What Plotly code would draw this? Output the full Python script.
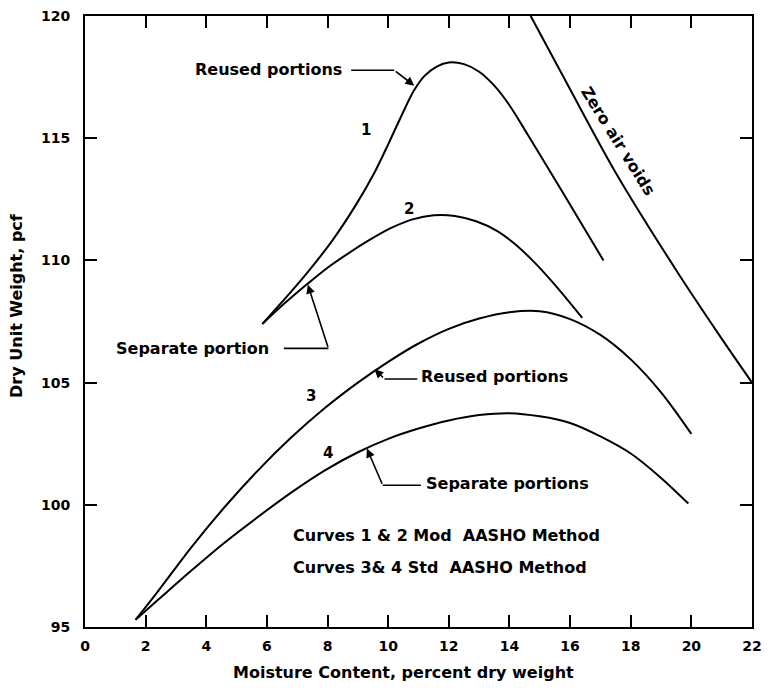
import plotly.graph_objects as go

# Moisture-density (compaction) curves, dry unit weight vs moisture content
curve1_x = [5.85, 6.5, 7.3, 8.15, 8.9, 9.55, 10.0, 10.45, 10.85, 11.2, 11.6, 12.0, 12.5, 13.0, 13.5, 14.0, 14.6, 15.7, 17.1]
curve1_y = [107.4, 108.3, 109.45, 110.8, 112.2, 113.6, 114.75, 115.95, 116.95, 117.55, 117.93, 118.1, 118.03, 117.72, 117.15, 116.35, 115.15, 112.9, 110.0]

curve2_x = [5.85, 6.5, 7.3, 8.0, 8.7, 9.4, 10.1, 10.8, 11.5, 12.2, 12.9, 13.6, 14.2, 14.8, 15.5, 16.4]
curve2_y = [107.4, 108.15, 109.0, 109.7, 110.3, 110.85, 111.33, 111.68, 111.85, 111.82, 111.6, 111.2, 110.65, 109.95, 109.0, 107.65]

curve3_x = [1.67, 2.4, 3.5, 4.6, 5.7, 6.8, 7.9, 9.0, 10.0, 11.0, 12.0, 13.0, 14.0, 15.0, 16.0, 17.0, 18.0, 19.0, 20.0]
curve3_y = [95.3, 96.45, 98.25, 99.9, 101.4, 102.75, 103.95, 105.0, 105.85, 106.6, 107.2, 107.62, 107.88, 107.92, 107.6, 106.95, 105.95, 104.6, 102.9]

curve4_x = [1.67, 2.4, 3.5, 4.6, 5.7, 6.8, 7.9, 9.0, 10.0, 11.0, 12.0, 13.0, 14.0, 15.0, 16.0, 17.0, 18.0, 19.0, 19.9]
curve4_y = [95.3, 96.1, 97.3, 98.45, 99.5, 100.5, 101.4, 102.15, 102.7, 103.12, 103.45, 103.67, 103.75, 103.62, 103.35, 102.8, 102.1, 101.1, 100.05]

zav_x = [14.7, 16.0, 17.5, 19.5, 21.0, 22.0]
zav_y = [120.0, 117.0, 113.6, 109.6, 106.8, 105.0]

x_ticks = [0, 2, 4, 6, 8, 10, 12, 14, 16, 18, 20, 22]
y_ticks = [95, 100, 105, 110, 115, 120]

FONT = "DejaVu Sans"
INK = "black"


def bold(size=14):
    return dict(family=FONT, size=size, color=INK, weight="bold")


fig = go.Figure()

for xs, ys in [(curve1_x, curve1_y), (curve2_x, curve2_y), (curve3_x, curve3_y),
               (curve4_x, curve4_y), (zav_x, zav_y)]:
    fig.add_trace(go.Scatter(
        x=xs, y=ys, mode="lines",
        line=dict(color=INK, width=2, shape="spline", smoothing=0.9),
        hoverinfo="skip",
    ))

annotations = []


def label(text, x, y, xanchor="center", angle=0, size=16):
    annotations.append(dict(
        text=text, x=x, y=y, xref="x", yref="y", showarrow=False,
        xanchor=xanchor, yanchor="middle", textangle=angle, font=bold(size),
    ))


def pointer(tail, tip):
    annotations.append(dict(
        text="", x=tip[0], y=tip[1], ax=tail[0], ay=tail[1],
        xref="x", yref="y", axref="x", ayref="y",
        showarrow=True, arrowhead=2, arrowsize=1.1, arrowwidth=1.6, arrowcolor=INK,
    ))


shapes = []


def leader(p0, p1):
    shapes.append(dict(type="line", xref="x", yref="y",
                       x0=p0[0], y0=p0[1], x1=p1[0], y1=p1[1],
                       line=dict(color=INK, width=1.6)))


# curve numbers
label("1", 9.28, 115.34, size=15)
label("2", 10.69, 112.1, size=15)
label("3", 7.47, 104.47, size=15)
label("4", 8.0, 102.1, size=15)

# callouts with leader lines
label("Reused portions", 8.55, 117.83, xanchor="right")
leader((8.78, 117.78), (10.2, 117.78))
pointer((10.2, 117.78), (10.86, 117.15))

label("Separate portion", 6.15, 106.4, xanchor="right")
leader((6.56, 106.4), (8.03, 106.4))
pointer((8.03, 106.4), (7.35, 109.0))

label("Reused portions", 11.02, 105.23, xanchor="left")
leader((9.88, 105.15), (10.96, 105.15))
pointer((9.88, 105.15), (9.55, 105.55))

label("Separate portions", 11.17, 100.86, xanchor="left")
leader((9.82, 100.8), (11.08, 100.8))
pointer((9.82, 100.8), (9.3, 102.3))

# method notes
label("Curves 1 &amp; 2 Mod\u00a0 AASHO Method", 6.78, 98.75, xanchor="left")
label("Curves 3&amp; 4 Std\u00a0 AASHO Method", 6.8, 97.45, xanchor="left")

# zero air voids line label
label("Zero air voids", 17.6, 114.88, angle=58)

# axis titles
annotations.append(dict(
    text="Moisture Content, percent dry weight", xref="paper", yref="paper",
    x=0.477, y=-0.074, xanchor="center", yanchor="middle", showarrow=False,
    font=bold(16),
))
annotations.append(dict(
    text="Dry Unit Weight, pcf", xref="paper", yref="paper",
    x=-0.103, y=0.526, xanchor="center", yanchor="middle", textangle=-90,
    showarrow=False, font=bold(16),
))

axis_style = dict(
    showgrid=False, zeroline=False, showline=True, linecolor=INK, linewidth=2,
    mirror="ticks", ticks="inside", ticklen=12, tickwidth=2, tickcolor=INK,
    tickfont=bold(14),
)

fig.update_layout(
    width=770, height=689,
    margin=dict(l=85, r=8, t=11, b=62),
    plot_bgcolor="white", paper_bgcolor="white",
    showlegend=False,
    annotations=annotations,
    shapes=shapes,
    xaxis=dict(range=[0, 22], tickvals=x_ticks, ticktext=[str(v) for v in x_ticks],
               ticklabelstandoff=5, **axis_style),
    yaxis=dict(range=[95, 120], tickvals=y_ticks, ticktext=[str(v) for v in y_ticks],
               ticklabelstandoff=10, **axis_style),
)

fig.write_html("out.html")
